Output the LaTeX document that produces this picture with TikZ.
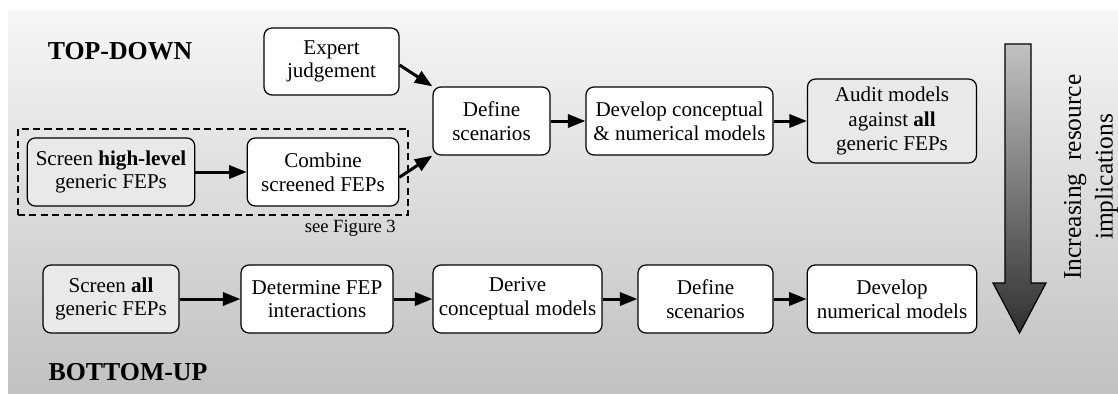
\documentclass[tikz,border=0pt]{standalone}
\usepackage{fontspec}
\setmainfont{Liberation Serif}
\usepackage{tikz}
\usetikzlibrary{arrows.meta,fit}
\definecolor{Boxgray}{RGB}{233,233,233}
\definecolor{Bgtop}{RGB}{246,246,246}
\definecolor{Bgbottom}{RGB}{193,193,193}
\definecolor{Shafttop}{RGB}{194,194,194}
\definecolor{Arrowtip}{RGB}{48,48,48}

\tikzset{
  stage/.style={draw, line width=0.7pt, rounded corners=4.5pt, fill=white,
    align=center, inner sep=0pt, minimum height=1.36cm,
    font=\fontsize{12}{13.5}\selectfont},
  flow/.style={line width=1.7pt, -{Triangle[length=10pt, width=7.5pt]}},
  heading/.style={font=\fontsize{14.7}{16}\selectfont\bfseries},
  fepframe/.style={draw, line width=1.2pt, dash pattern=on 4pt off 2.5pt, inner sep=5pt},
}

\begin{document}
\begin{tikzpicture}[x=0.02cm, y=-0.02cm]
    %% Background
    \useasboundingbox (0,0) rectangle (1118,393);
    \shade[top color=Bgtop, bottom color=Bgbottom] (8,10) rectangle (1118,393);

    %% Top-down route
    \node[heading] (topdown) at (120,51) {TOP-DOWN};
    \node[stage, minimum width=2.7cm, minimum height=1.34cm] (expert) at (331.5,61.5) {Expert\\judgement};
    \node[stage, minimum width=2.34cm] (defA) at (491.5,121) {Define\\scenarios};
    \node[stage, minimum width=3.74cm] (devA) at (679.5,121) {Develop conceptual\\\& numerical models};
    \node[stage, fill=Boxgray, minimum width=3.38cm, minimum height=1.68cm,
      font=\fontsize{12}{14}\selectfont] (audit) at (892,121) {Audit models\\against \textbf{all}\\generic FEPs};
    \node[stage, fill=Boxgray, minimum width=3.35cm] (scrHL) at (111,172) {Screen \textbf{high-level}\\generic FEPs};
    \node[stage, minimum width=3.03cm] (comb) at (323,172) {Combine\\screened FEPs};
    \node[fepframe, fit=(scrHL)(comb)] (frame) {};
    \node[anchor=east, font=\fontsize{10.6}{12}\selectfont] (seefig) at (402,228) {see Figure 3};

    \draw[flow] ([yshift=-2pt]expert.east) -- (defA.north west);
    \draw[flow] (scrHL) -- (comb);
    \draw[flow] ([yshift=-3pt]comb.east) -- (defA.south west);
    \draw[flow] (defA) -- (devA);
    \draw[flow] (devA) -- (audit);

    %% Bottom-up route
    \node[stage, fill=Boxgray, minimum width=2.72cm] (scrAll) at (111,299) {Screen \textbf{all}\\generic FEPs};
    \node[stage, minimum width=3.04cm] (detFEP) at (317,299) {Determine FEP\\interactions};
    \node[stage, minimum width=3.38cm] (derive) at (517.5,299) {Derive\\conceptual models};
    \node[stage, minimum width=2.7cm] (defB) at (705.5,299) {Define\\scenarios};
    \node[stage, minimum width=3.39cm] (devB) at (892,299) {Develop\\numerical models};
    \node[heading] (bottomup) at (128,372) {BOTTOM-UP};

    \draw[flow] (scrAll) -- (detFEP);
    \draw[flow] (detFEP) -- (derive);
    \draw[flow] (derive) -- (defB);
    \draw[flow] (defB) -- (devB);

    %% Resource arrow
    \shadedraw[top color=Shafttop, bottom color=Arrowtip, line width=0.7pt]
    (1005,44) -- (1031,44) -- (1031,283) -- (1046,283) -- (1019.5,333)
    -- (993,283) -- (1005,283) -- cycle;
    \node[rotate=90, align=center, font=\fontsize{14.5}{18}\selectfont] (resource)
    at (1091,177) {Increasing\enspace resource\\implications};

\end{tikzpicture}
\end{document}
